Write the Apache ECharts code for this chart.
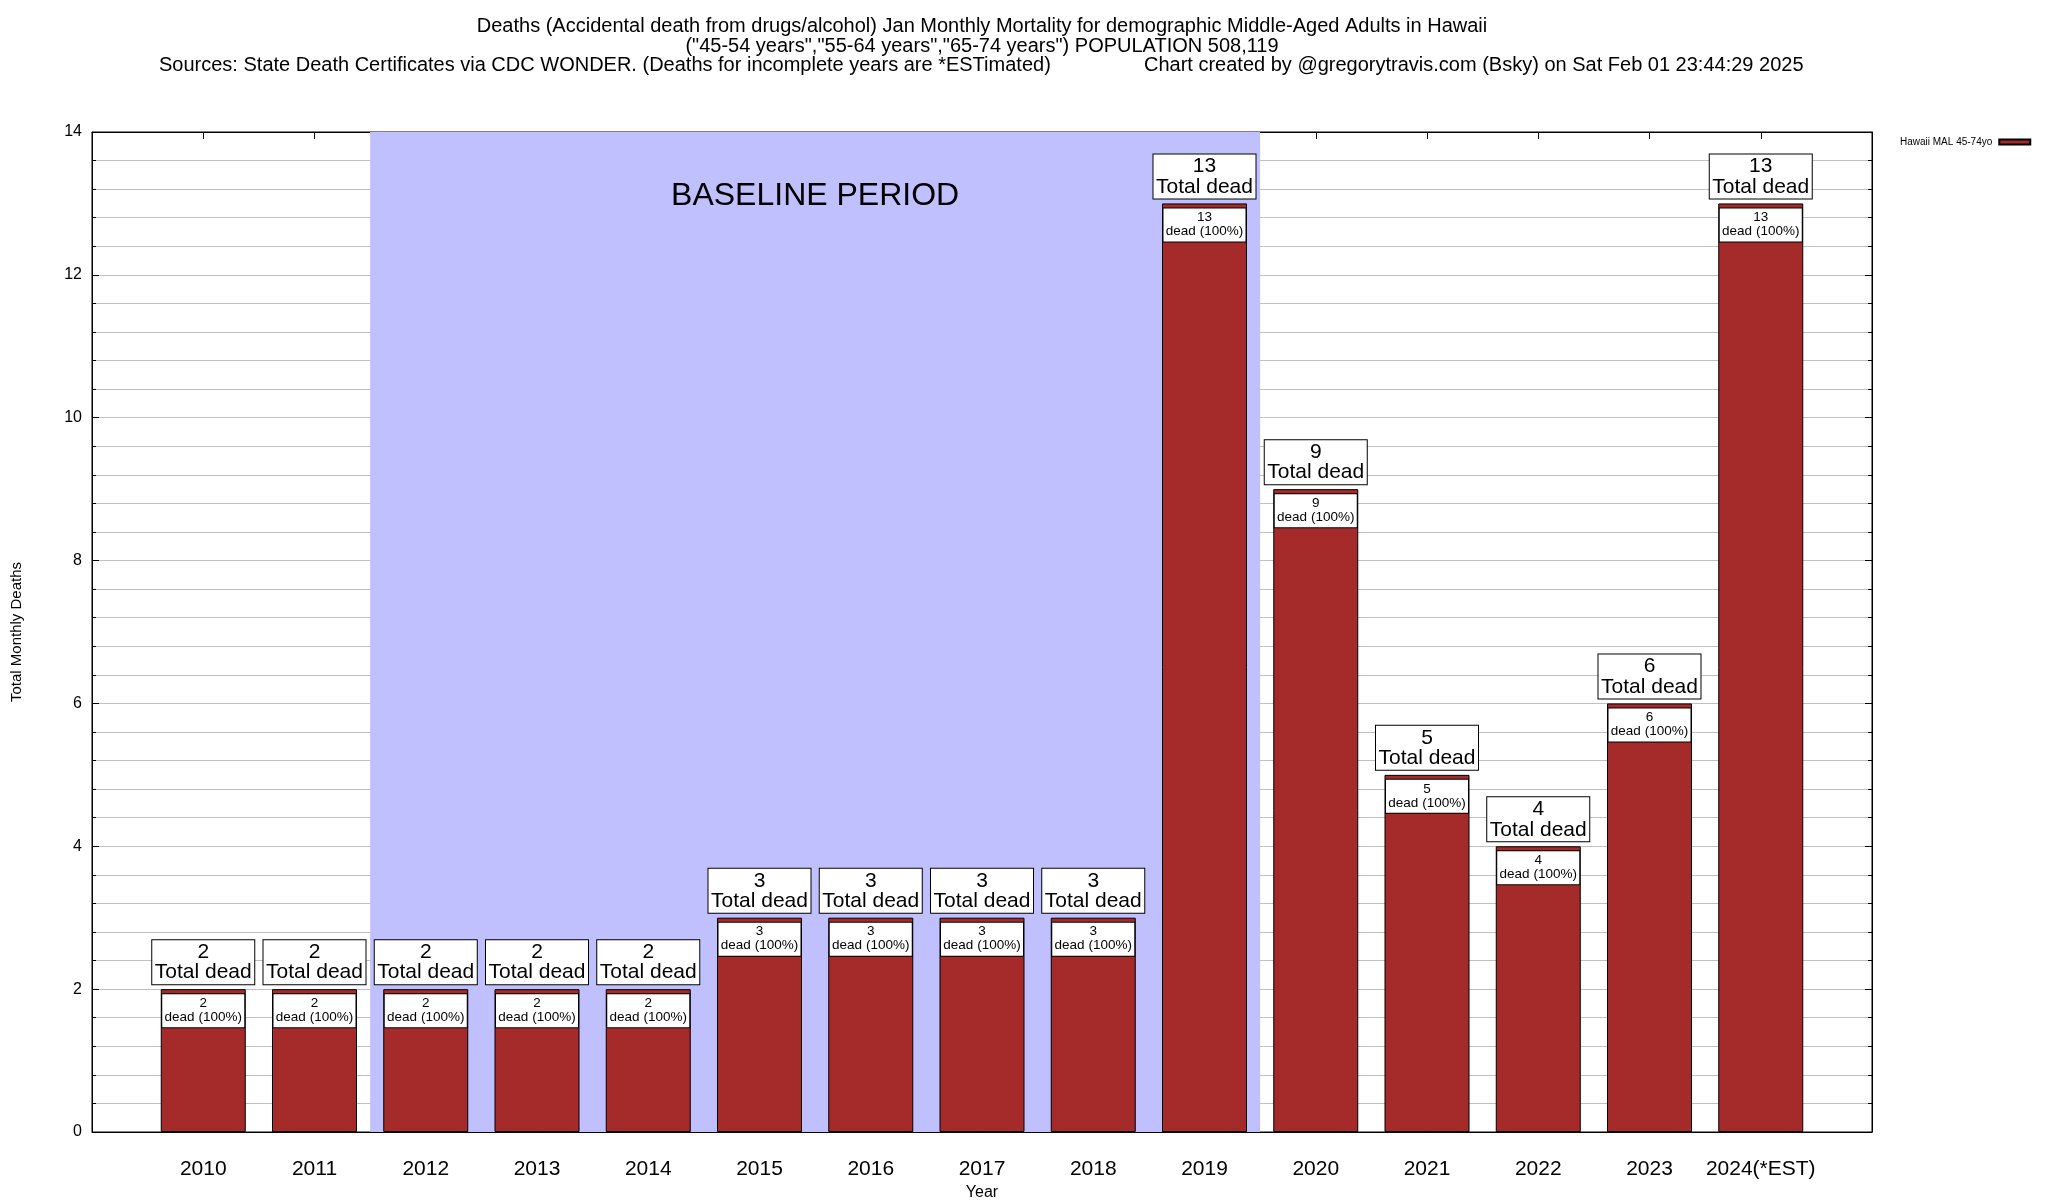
<!DOCTYPE html>
<html>
<head>
<meta charset="utf-8">
<script src="https://cdn.jsdelivr.net/npm/echarts@6/dist/echarts.min.js"></script>
<style>html,body{margin:0;padding:0;background:#fff}#c{width:2048px;height:1200px}</style>
</head>
<body>
<div id="c"></div>
<script>
const years = [2010, 2011, 2012, 2013, 2014, 2015, 2016, 2017, 2018, 2019, 2020, 2021, 2022, 2023, 2024];
const xLabels = ['2010', '2011', '2012', '2013', '2014', '2015', '2016', '2017', '2018', '2019', '2020', '2021', '2022', '2023', '2024(*EST)'];
const deaths = [2, 2, 2, 2, 2, 3, 3, 3, 3, 13, 9, 5, 4, 6, 13];
const baselinePeriod = [2011.5, 2019.5];
const seriesName = 'Hawaii MAL 45-74yo';
const titleLines = [
  'Deaths (Accidental death from drugs/alcohol) Jan Monthly Mortality for demographic Middle-Aged Adults in Hawaii',
  '("45-54 years","55-64 years","65-74 years") POPULATION 508,119'
];
const sourceText = 'Sources: State Death Certificates via CDC WONDER. (Deaths for incomplete years are *ESTimated)';
const creditText = 'Chart created by @gregorytravis.com (Bsky) on Sat Feb 01 23:44:29 2025';

const FONT = '"Liberation Sans", Arial, Helvetica, sans-serif';
const chart = echarts.init(document.getElementById('c'));
const pts = years.map((y, i) => [y, deaths[i]]);

function txt(text, x, y, align) {
  return { type: 'text', x: x, y: y, style: { text: text, font: '20px ' + FONT, fill: '#000', textAlign: align, textVerticalAlign: 'middle' } };
}

const option = {
  backgroundColor: '#fff',
  textStyle: { fontFamily: FONT, color: '#000' },
  animation: false,
  graphic: [
    txt(titleLines[0], 982, 26, 'center'),
    txt(titleLines[1], 982, 46, 'center'),
    txt(sourceText, 159, 65, 'left'),
    txt(creditText, 1144, 65, 'left')
  ],
  legend: {
    data: [seriesName],
    left: 1895, top: 132,
    align: 'right',
    icon: 'rect',
    itemWidth: 31, itemHeight: 5,
    itemGap: 4,
    textStyle: { fontSize: 10, fontFamily: FONT, color: '#000', padding: [0, 2, 0, 0] }
  },
  grid: { left: 92, top: 132, right: 176, bottom: 68, show: true, borderColor: '#000', borderWidth: 1, backgroundColor: 'transparent', containLabel: false, outerBoundsMode: 'none' },
  xAxis: [
    {
      type: 'value', min: 2009, max: 2025, interval: 1, position: 'bottom',
      name: 'Year', nameLocation: 'middle', nameGap: 49,
      nameTextStyle: { fontSize: 16, color: '#000', fontFamily: FONT },
      axisLine: { show: true, onZero: false, lineStyle: { color: '#000' } },
      axisTick: { show: true, inside: true, length: 7, lineStyle: { color: '#000' } },
      splitLine: { show: false },
      axisLabel: {
        fontSize: 21, color: '#000', margin: 27, fontFamily: FONT,
        formatter: v => { const i = years.indexOf(Math.round(v)); return (i >= 0 && Math.abs(v - years[i]) < 1e-6) ? xLabels[i] : ''; }
      }
    },
    {
      type: 'value', min: 2009, max: 2025, interval: 1, position: 'top',
      axisLine: { show: true, onZero: false, lineStyle: { color: '#000' } },
      axisTick: { show: true, inside: true, length: 7, lineStyle: { color: '#000' } },
      splitLine: { show: false },
      axisLabel: { show: false }
    }
  ],
  yAxis: [
    {
      type: 'value', min: 0, max: 14, interval: 2, position: 'left',
      name: 'Total Monthly Deaths', nameLocation: 'middle', nameGap: 68, nameRotate: 90,
      nameTextStyle: { fontSize: 15, color: '#000', fontFamily: FONT },
      axisLine: { show: true, onZero: false, lineStyle: { color: '#000' } },
      axisTick: { show: true, inside: true, length: 7, lineStyle: { color: '#000' } },
      minorTick: { show: true, splitNumber: 5, length: 4, lineStyle: { color: '#000' } },
      splitLine: { show: true, lineStyle: { color: '#c0c0c0', width: 1 } },
      minorSplitLine: { show: true, lineStyle: { color: '#c0c0c0', width: 1 } },
      axisLabel: { fontSize: 16, color: '#000', margin: 10, fontFamily: FONT }
    },
    {
      type: 'value', min: 0, max: 14, interval: 2, position: 'right',
      axisLine: { show: true, onZero: false, lineStyle: { color: '#000' } },
      axisTick: { show: true, inside: true, length: 7, lineStyle: { color: '#000' } },
      minorTick: { show: true, splitNumber: 5, length: 4, lineStyle: { color: '#000' } },
      splitLine: { show: false },
      axisLabel: { show: false }
    }
  ],
  series: [
    {
      type: 'line', data: [], z: -1, silent: true,
      markArea: {
        silent: true,
        itemStyle: { color: 'rgb(192,192,255)' },
        label: { show: true, position: 'insideTop', distance: 48, fontSize: 32, color: '#000', fontFamily: FONT },
        data: [[{ xAxis: baselinePeriod[0], yAxis: 0, name: 'BASELINE PERIOD' }, { xAxis: baselinePeriod[1], yAxis: 14 }]]
      }
    },
    {
      name: seriesName,
      type: 'bar',
      data: pts,
      barWidth: 85,
      barGap: '-100%',
      itemStyle: { color: '#a52a2a', borderColor: '#000', borderWidth: 1 },
      label: {
        show: true, position: 'top', distance: 5,
        backgroundColor: '#fff', borderColor: '#000', borderWidth: 1,
        width: 96, padding: [2, 3, 1, 3], align: 'center',
        formatter: p => '{n|' + p.value[1] + '}\n{t|Total dead}',
        rich: {
          n: { fontSize: 21, lineHeight: 20, color: '#000', align: 'center', fontFamily: FONT },
          t: { fontSize: 21, lineHeight: 21, color: '#000', align: 'center', fontFamily: FONT }
        }
      }
    },
    {
      type: 'bar',
      data: pts,
      barWidth: 85,
      barGap: '-100%',
      silent: true,
      itemStyle: { color: 'rgba(0,0,0,0)', borderWidth: 0 },
      label: {
        show: true, position: 'insideTop', distance: 5,
        backgroundColor: '#fff', borderColor: '#000', borderWidth: 1,
        width: 78, padding: [2, 2, 3, 2], align: 'center',
        formatter: p => '{a|' + p.value[1] + '}\n{a|dead (100%)}',
        rich: {
          a: { fontSize: 13.5, lineHeight: 14, color: '#000', align: 'center', fontFamily: FONT }
        }
      }
    }
  ]
};
chart.setOption(option);
</script>
</body>
</html>
